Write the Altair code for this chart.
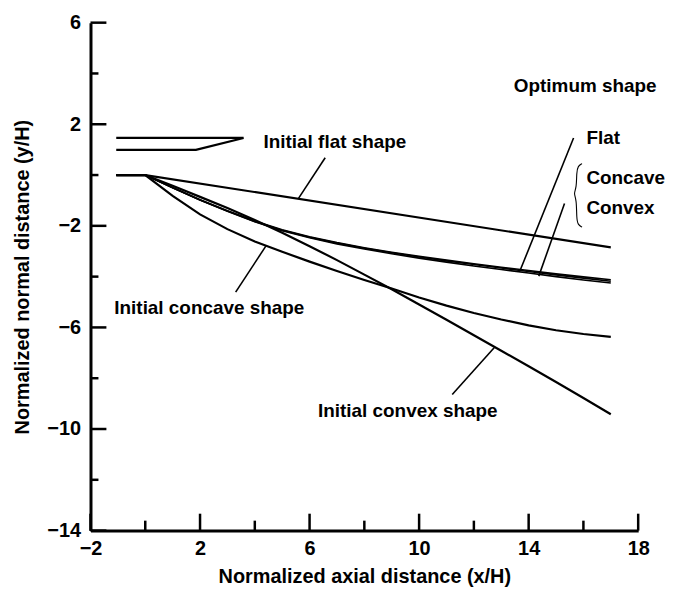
import altair as alt
import pandas as pd

FONT = "Liberation Sans"

# Axis tick positions
x_ticks_major = [-2, 2, 6, 10, 14, 18]
x_ticks_minor = [0, 4, 8, 12, 16]
y_ticks_major = [6, 2, -2, -6, -10, -14]
y_ticks_minor = [4, 0, -4, -8, -12]

# Curves (x/H, y/H)
x_grid = [-1.06, 0, 1, 2, 3, 4, 5, 6, 7, 8, 9, 10, 11, 12, 13, 14, 15, 16, 17]
opt_flat = [0, 0, -0.5, -0.97, -1.41, -1.81, -2.15, -2.43, -2.66, -2.86, -3.04, -3.2, -3.35, -3.49, -3.63, -3.76, -3.89, -4.01, -4.12]
opt_concave = [0, 0, -0.5, -0.98, -1.42, -1.83, -2.17, -2.45, -2.68, -2.88, -3.06, -3.23, -3.38, -3.52, -3.66, -3.8, -3.93, -4.06, -4.18]
opt_convex = [0, 0, -0.49, -0.98, -1.43, -1.84, -2.19, -2.47, -2.71, -2.91, -3.1, -3.27, -3.43, -3.58, -3.72, -3.86, -4.0, -4.13, -4.25]
init_concave = [0, 0, -0.82, -1.55, -2.13, -2.62, -3.02, -3.41, -3.78, -4.13, -4.47, -4.82, -5.14, -5.43, -5.69, -5.92, -6.11, -6.26, -6.37]
init_convex = [0, 0, -0.42, -0.86, -1.3, -1.77, -2.27, -2.8, -3.35, -3.92, -4.5, -5.1, -5.7, -6.31, -6.92, -7.53, -8.15, -8.78, -9.42]
init_flat_x = [-1.06, 0, 17]
init_flat_y = [0, 0, -2.85]

# Upper wedge (top left)
wedge_x = [-1.06, 3.59, 1.85, -1.06]
wedge_y = [1.46, 1.46, 0.99, 0.99]

# Leader lines: (x1, y1, x2, y2)
leaders = {
    "flat_opt": [15.64, 1.46, 13.68, -3.78],
    "cc_opt": [15.31, -1.12, 14.37, -3.98],
    "init_flat": [6.57, 0.68, 5.59, -0.93],
    "init_concave": [3.30, -4.61, 4.42, -2.77],
    "init_convex": [11.21, -8.64, 12.74, -6.8],
}

# Brace
brace_x = [15.95, 15.8, 15.75, 15.75, 15.64, 15.75, 15.75, 15.8, 15.95]
brace_y = [0.45, 0.36, 0.1, -0.5, -0.73, -0.96, -1.7, -1.96, -2.05]

# Labels
label_text = ["Optimum shape", "Flat", "Concave", "Convex", "Initial flat shape",
              "Initial concave shape", "Initial convex shape"]
label_x = [13.46, 16.11, 16.11, 16.11, 4.32, -1.13, 6.31]
label_y = [3.5, 1.46, -0.1, -1.28, 1.30, -5.23, -9.30]

W, H = 551, 511

rows_thick = []
for name, ys in [("init_concave", init_concave), ("init_convex", init_convex)]:
    for i, (xv, yv) in enumerate(zip(x_grid, ys)):
        rows_thick.append({"series": name, "x": xv, "y": yv, "order": i})
for i, (xv, yv) in enumerate(zip(init_flat_x, init_flat_y)):
    rows_thick.append({"series": "init_flat", "x": xv, "y": yv, "order": i})
for i, (xv, yv) in enumerate(zip(wedge_x, wedge_y)):
    rows_thick.append({"series": "wedge", "x": xv, "y": yv, "order": i})
df_thick = pd.DataFrame(rows_thick)

rows_thin = []
for name, ys in [("opt_flat", opt_flat), ("opt_concave", opt_concave), ("opt_convex", opt_convex)]:
    for i, (xv, yv) in enumerate(zip(x_grid, ys)):
        rows_thin.append({"series": name, "x": xv, "y": yv, "order": i})
df_thin = pd.DataFrame(rows_thin)

rows_lead = []
for name, (x1, y1, x2, y2) in leaders.items():
    rows_lead.append({"series": name, "x": x1, "y": y1, "order": 0})
    rows_lead.append({"series": name, "x": x2, "y": y2, "order": 1})
df_lead = pd.DataFrame(rows_lead)

df_brace = pd.DataFrame({"x": brace_x, "y": brace_y, "order": list(range(len(brace_x)))})
df_text = pd.DataFrame({"text": label_text, "x": label_x, "y": label_y})

xscale = alt.Scale(domain=[-2, 18], nice=False, zero=False)
yscale = alt.Scale(domain=[-14, 6], nice=False, zero=False)

common_axis = dict(
    ticks=False, grid=False, domainWidth=3, domainColor="black",
    labelFont=FONT, labelFontSize=20, labelFontWeight="bold", labelColor="black",
    titleFont=FONT, titleFontSize=20, titleFontWeight="bold", titleColor="black",
    labelFlush=False, labelOverlap=False, labelBound=False,
)

x_enc = alt.X("x:Q", scale=xscale,
              axis=alt.Axis(values=x_ticks_major, labelPadding=8, titlePadding=8,
                            title="Normalized axial distance (x/H)", **common_axis))
y_enc = alt.Y("y:Q", scale=yscale,
              axis=alt.Axis(values=y_ticks_major, labelPadding=10, titlePadding=14,
                            title="Normalized normal distance (y/H)", **common_axis))

thick = alt.Chart(df_thick).mark_line(color="black", strokeWidth=2.2).encode(
    x=x_enc, y=y_enc, detail="series:N", order="order:Q")
thin = alt.Chart(df_thin).mark_line(color="black", strokeWidth=1.6).encode(
    x="x:Q", y="y:Q", detail="series:N", order="order:Q")
lead = alt.Chart(df_lead).mark_line(color="black", strokeWidth=1.6).encode(
    x="x:Q", y="y:Q", detail="series:N", order="order:Q")
brace = alt.Chart(df_brace).mark_line(color="black", strokeWidth=1.1, interpolate="basis").encode(
    x="x:Q", y="y:Q", order="order:Q")
texts = alt.Chart(df_text).mark_text(align="left", baseline="middle", font=FONT,
                                     fontSize=19, fontWeight="bold", color="black").encode(
    x="x:Q", y="y:Q", text="text:N")

xt_major = alt.Chart(pd.DataFrame({"x": x_ticks_major})).mark_rule(color="black", strokeWidth=2.5).encode(
    x="x:Q", y=alt.value(H), y2=alt.value(H - 17))
xt_minor = alt.Chart(pd.DataFrame({"x": x_ticks_minor})).mark_rule(color="black", strokeWidth=2.5).encode(
    x="x:Q", y=alt.value(H), y2=alt.value(H - 10))
yt_major = alt.Chart(pd.DataFrame({"y": y_ticks_major})).mark_rule(color="black", strokeWidth=2.5).encode(
    y="y:Q", x=alt.value(0), x2=alt.value(16))
yt_minor = alt.Chart(pd.DataFrame({"y": y_ticks_minor})).mark_rule(color="black", strokeWidth=2.5).encode(
    y="y:Q", x=alt.value(0), x2=alt.value(8))

chart = alt.layer(thick, thin, lead, brace, texts, xt_major, xt_minor, yt_major, yt_minor).properties(
    width=W, height=H,
    autosize=alt.AutoSizeParams(type="none"),
    padding={"left": 83, "top": 13, "right": 30, "bottom": 56},
    background="white",
).configure_view(stroke=None)

chart.save("out.html", embed_options={"renderer": "svg", "actions": False})
